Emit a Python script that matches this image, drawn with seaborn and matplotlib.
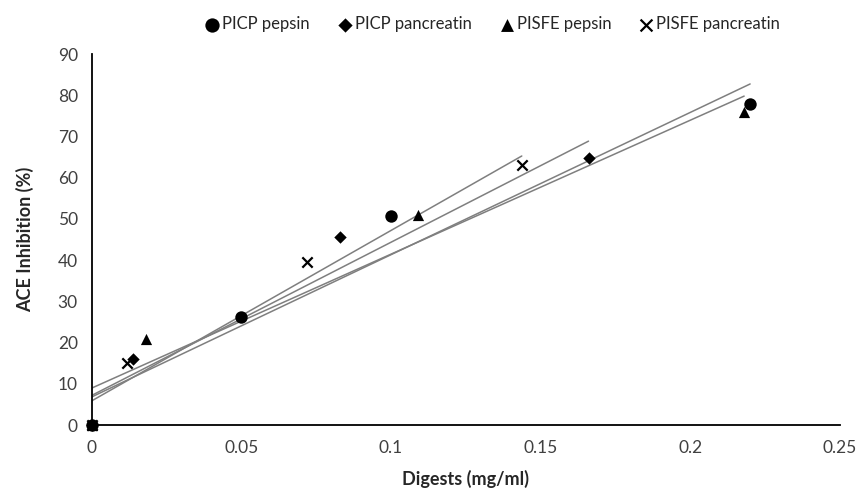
import matplotlib
matplotlib.use("Agg")
import matplotlib.pyplot as plt
import seaborn as sns
import pandas as pd
import numpy as np

sns.set_theme(style="white")
plt.rcParams['font.family'] = ['Lato', 'DejaVu Sans']

# Data
picp_pepsin_x = [0, 0.05, 0.10, 0.22]
picp_pepsin_y = [0, 26.3, 50.7, 78.0]
picp_panc_x = [0, 0.0137, 0.083, 0.166]
picp_panc_y = [0, 16.0, 45.6, 64.8]
pisfe_pepsin_x = [0, 0.018, 0.109, 0.218]
pisfe_pepsin_y = [0, 21.0, 51.0, 76.0]
pisfe_panc_x = [0, 0.0117, 0.072, 0.1437]
pisfe_panc_y = [0, 15.0, 39.5, 63.0]

series_names = ["PICP pepsin", "PICP pancreatin", "PISFE pepsin", "PISFE pancreatin"]
xs = [picp_pepsin_x, picp_panc_x, pisfe_pepsin_x, pisfe_panc_x]
ys = [picp_pepsin_y, picp_panc_y, pisfe_pepsin_y, pisfe_panc_y]
markers = ["o", "D", "^", "x"]
sizes = [80, 40, 65, 55]

fig = plt.figure(figsize=(8.65, 4.92), dpi=100)
ax = fig.add_axes([0.106, 0.136, 0.865, 0.754])

for name, x, y in zip(series_names, xs, ys):
    df = pd.DataFrame({"x": x, "y": y})
    sns.regplot(data=df, x="x", y="y", ax=ax, scatter=False, ci=None,
                truncate=True, line_kws=dict(color="#7f7f7f", lw=1.1))

for name, x, y, m, s in zip(series_names, xs, ys, markers, sizes):
    df = pd.DataFrame({"x": x, "y": y})
    kw = dict(linewidths=1.6) if m == "x" else dict(edgecolor="black", linewidth=0)
    sns.scatterplot(data=df, x="x", y="y", ax=ax, marker=m, s=s, color="black",
                    label=name, zorder=5, clip_on=False, **kw)

ax.set_xlim(0, 0.25)
ax.set_ylim(0, 90)
ax.set_xticks([0, 0.05, 0.1, 0.15, 0.2, 0.25])
ax.set_xticklabels(["0", "0.05", "0.1", "0.15", "0.2", "0.25"])
ax.set_yticks(range(0, 91, 10))
ax.tick_params(axis="both", length=0, labelsize=12.5, colors="#404040")
ax.tick_params(axis="x", pad=11)
ax.tick_params(axis="y", pad=10)
for sp in ["top", "right"]:
    ax.spines[sp].set_visible(False)
for sp in ["left", "bottom"]:
    ax.spines[sp].set_color("black")
    ax.spines[sp].set_linewidth(1.3)
ax.set_xlabel("Digests (mg/ml)", fontsize=13, fontweight="bold", labelpad=10)
ax.set_ylabel("ACE Inhibition (%)", fontsize=13, fontweight="bold", labelpad=17)

leg = ax.legend(loc="center", bbox_to_anchor=(0.535, 1.081), ncol=4, frameon=False,
                fontsize=12, handletextpad=0.1, columnspacing=1.6, handlelength=1.0,
                markerscale=1.15)

fig.savefig("out.png", dpi=100)
